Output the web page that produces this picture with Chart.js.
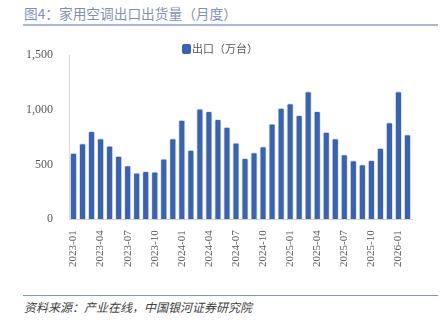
<!DOCTYPE html>
<html>
<head>
<meta charset="utf-8">
<script src="https://cdn.jsdelivr.net/npm/chart.js@4/dist/chart.umd.min.js"></script>
<style>
  html, body { margin: 0; padding: 0; background: #fff; }
  body { width: 446px; height: 327px; position: relative; overflow: hidden; }
  .title {
    position: absolute; left: 24px; top: 3px;
    font: 13.7px "Noto Sans CJK SC", sans-serif; color: #7f90b6;
  }
  .rule { position: absolute; left: 23px; width: 415px; height: 2px; background: #a9b7d6; }
  .source {
    position: absolute; left: 24px; top: 298px;
    font: italic 12px "Noto Sans CJK SC", sans-serif; color: #404040;
  }
  .legend {
    position: absolute; left: 182px; top: 40px;
    font: 11px "Noto Sans CJK SC", sans-serif; color: #595959;
  }
  .legend i {
    display: inline-block; width: 9px; height: 10px; background: #3a62ad;
    border-radius: 2px; vertical-align: -1px; margin-right: 1px;
  }
  #wrap { position: absolute; left: 0; top: 40px; width: 446px; height: 250px; }
</style>
</head>
<body>
<div class="title">图4：家用空调出口出货量（月度）</div>
<div class="rule" style="top:24px"></div>
<div id="wrap"><canvas id="chart"></canvas></div>
<div class="legend" id="legend"></div>
<div class="rule" style="top:295px;height:1px;background:#7f94c4"></div>
<div class="source">资料来源：产业在线，中国银河证券研究院</div>
<script>
// months 2023-01 .. 2026-02
const months = [
  '2023-01','2023-02','2023-03','2023-04','2023-05','2023-06','2023-07','2023-08','2023-09','2023-10','2023-11','2023-12',
  '2024-01','2024-02','2024-03','2024-04','2024-05','2024-06','2024-07','2024-08','2024-09','2024-10','2024-11','2024-12',
  '2025-01','2025-02','2025-03','2025-04','2025-05','2025-06','2025-07','2025-08','2025-09','2025-10','2025-11','2025-12',
  '2026-01','2026-02'
];
// 出口（万台）
const exportVals = [
  608, 696, 807, 741, 675, 582, 495, 429, 441, 438, 555, 741,
  909, 636, 1014, 990, 918, 846, 702, 561, 612, 669, 876, 1020,
  1062, 954, 1170, 990, 801, 741, 594, 540, 504, 543, 654, 888,
  1170, 777
];
const yTicks = [0, 500, 1000, 1500];
const seriesName = '出口（万台）';

const serif = '"Liberation Serif", "DejaVu Serif", serif';

document.getElementById('legend').innerHTML = '<i></i>' + seriesName;

new Chart(document.getElementById('chart'), {
  type: 'bar',
  data: {
    labels: months,
    datasets: [{
      label: seriesName,
      data: exportVals,
      backgroundColor: '#3a62ad',
      borderColor: 'rgba(220,228,242,0.9)',
      borderWidth: 1,
      borderRadius: 2,
      borderSkipped: 'bottom',
      barPercentage: 0.8,
      categoryPercentage: 1.0
    }]
  },
  options: {
    responsive: true,
    maintainAspectRatio: false,
    animation: false,
    layout: { padding: { left: 0, right: 34, top: 2, bottom: 20 } },
    plugins: {
      legend: { display: false },
      tooltip: { enabled: false }
    },
    scales: {
      x: {
        grid: { display: false },
        border: { color: '#d0d0d0' },
        ticks: {
          autoSkip: false,
          maxRotation: 90, minRotation: 90,
          color: '#595959',
          font: { family: serif, size: 11 },
          callback: (v, i) => (i % 3 === 0 ? months[i] : '')
        }
      },
      y: {
        min: 0, max: 1500,
        afterBuildTicks: s => { s.ticks = yTicks.map(v => ({ value: v })); },
        afterFit: s => { s.width = 69; },
        grid: { display: false },
        border: { color: '#d9d9d9' },
        ticks: {
          color: '#595959',
          padding: 8,
          font: { family: serif, size: 12 },
          callback: v => v.toLocaleString('en-US')
        }
      }
    }
  }
});
</script>
</body>
</html>
